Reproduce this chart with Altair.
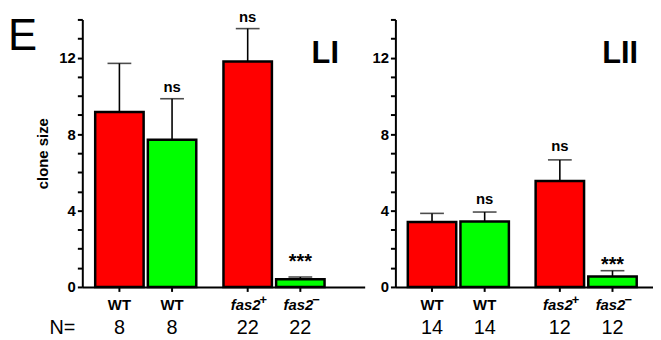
import altair as alt
import pandas as pd

# ---- data ----
pairs = ["WT", "WT", "fas2", "fas2"]
clones = ["red", "green", "red", "green"]
genotype = ["WT", "WT", "fas2", "fas2"]
superscripts = ["", "", "+", "\u2212"]

li_mean = [9.15, 7.7, 11.8, 0.4]
li_sem = [2.55, 2.15, 1.72, 0.12]
li_n = ["8", "8", "22", "22"]
li_sig = ["", "ns", "ns", "***"]

lii_mean = [3.4, 3.42, 5.55, 0.55]
lii_sem = [0.45, 0.5, 1.1, 0.3]
lii_n = ["14", "14", "12", "12"]
lii_sig = ["", "ns", "ns", "***"]

y_ticks = list(range(0, 15))
FONT = "Liberation Sans"
H = 270


def make_panel(mean, sem, n, sig, title, width, pad_outer, align, ytitle,
               title_x, star_dy, ns_dy, extras=()):
    df = pd.DataFrame({
        "pair": pairs, "clone": clones, "geno": genotype, "sup": superscripts,
        "mean": mean, "sem": sem, "n": n, "sig": sig,
    })
    df["top"] = df["mean"] + df["sem"]
    base = alt.Chart(df)

    X = alt.X("pair:N", sort=["WT", "fas2"],
              scale=alt.Scale(domain=["WT", "fas2"], paddingInner=0.212,
                              paddingOuter=pad_outer, align=align),
              axis=alt.Axis(labels=False, ticks=False, title=None,
                            domainWidth=2, domainColor="black"))
    XO = alt.XOffset("clone:N",
                     scale=alt.Scale(domain=["red", "green"], paddingInner=0.08,
                                     paddingOuter=0))
    ysc = alt.Scale(domain=[0, 14], nice=False, zero=True)
    yaxis = alt.Axis(values=y_ticks,
                     labelExpr="datum.value % 4 === 0 && datum.value < 14 ? datum.label : ''",
                     labelOverlap=False, tickSize=5, tickWidth=2, tickColor="black",
                     domainWidth=2, domainColor="black", labelFontSize=15,
                     labelFontWeight="bold", labelColor="black", labelPadding=2,
                     grid=False, title=ytitle, titleFontSize=15,
                     titleFontWeight="bold", titleColor="black", titlePadding=8)
    Y = alt.Y("mean:Q", scale=ysc, axis=yaxis)

    bars = base.mark_bar(stroke="black", strokeWidth=2.5).encode(
        x=X, xOffset=XO, y=Y,
        color=alt.Color("clone:N", scale=alt.Scale(domain=["red", "green"],
                                                   range=["#ff0000", "#00ff00"]),
                        legend=None),
    )
    err = base.mark_rule(color="black", strokeWidth=1.6).encode(
        x=X, xOffset=XO, y=alt.Y("mean:Q", scale=ysc, axis=yaxis), y2="top:Q")
    cap = base.mark_tick(color="black", thickness=1.6, size=24,
                         orient="horizontal").encode(
        x=X, xOffset=XO, y=alt.Y("top:Q", scale=ysc, axis=yaxis))
    xticks = base.mark_rule(color="black", strokeWidth=2).encode(
        x=X, xOffset=XO, y=alt.value(H), y2=alt.value(H + 5))
    ns = base.transform_filter("datum.sig === 'ns'").mark_text(
        font=FONT, fontSize=15, fontWeight="bold", baseline="alphabetic",
        dy=ns_dy, color="black").encode(
        x=X, xOffset=XO, y=alt.Y("top:Q", scale=ysc, axis=yaxis), text="sig:N")
    stars = base.transform_filter("datum.sig === '***'").mark_text(
        font=FONT, fontSize=20, fontWeight="bold", baseline="alphabetic",
        dy=star_dy, color="black").encode(
        x=X, xOffset=XO, y=alt.Y("top:Q", scale=ysc, axis=yaxis), text="sig:N")
    wt = base.transform_filter("datum.geno === 'WT'").mark_text(
        font=FONT, fontSize=15, fontWeight="bold", baseline="alphabetic",
        color="black").encode(
        x=X, xOffset=XO, y=alt.value(H + 23.5), text="geno:N")
    fas = base.transform_filter("datum.geno === 'fas2'").mark_text(
        font=FONT, fontSize=15, fontWeight="bold", fontStyle="italic",
        baseline="alphabetic", dx=-2, color="black").encode(
        x=X, xOffset=XO, y=alt.value(H + 23.5), text="geno:N")
    sup = base.transform_filter("datum.sup !== ''").mark_text(
        font=FONT, fontSize=13, fontWeight="bold", baseline="alphabetic",
        align="left", dx=12, dy=-6, color="black").encode(
        x=X, xOffset=XO, y=alt.value(H + 23.5), text="sup:N")
    nums = base.mark_text(font=FONT, fontSize=20, baseline="alphabetic",
                          color="black").encode(
        x=X, xOffset=XO, y=alt.value(H + 47), text="n:N")
    ttl = alt.Chart(pd.DataFrame({"t": [title]})).mark_text(
        font=FONT, fontSize=31, fontWeight="bold", align="right",
        baseline="alphabetic", color="black").encode(
        x=alt.value(title_x), y=alt.value(44), text="t:N")

    layers = [bars, err, cap, xticks, ns, stars, wt, fas, sup, nums, ttl] + list(extras)
    return alt.layer(*layers).properties(width=width, height=H)


letter = alt.Chart(pd.DataFrame({"t": ["E"]})).mark_text(
    font=FONT, fontSize=44, align="left", baseline="alphabetic", color="black"
).encode(x=alt.value(-75), y=alt.value(31), text="t:N")
nlabel = alt.Chart(pd.DataFrame({"t": ["N="]})).mark_text(
    font=FONT, fontSize=20, align="right", baseline="alphabetic", color="black"
).encode(x=alt.value(-7), y=alt.value(H + 47), text="t:N")

left = make_panel(li_mean, li_sem, li_n, li_sig, "LI", 285, 0.2066, 0.243,
                  "clone size", 259, -9, -7, extras=(letter, nlabel))
right = make_panel(lii_mean, lii_sem, lii_n, lii_sig, "LII", 260, 0.1136, 0.427,
                   None, 245, 0, -8.5)

chart = alt.hconcat(left, right, spacing=7).properties(padding=0).configure(
    font=FONT).configure_view(stroke=None)

chart.save("out.html", embed_options={"renderer": "svg", "actions": False})
